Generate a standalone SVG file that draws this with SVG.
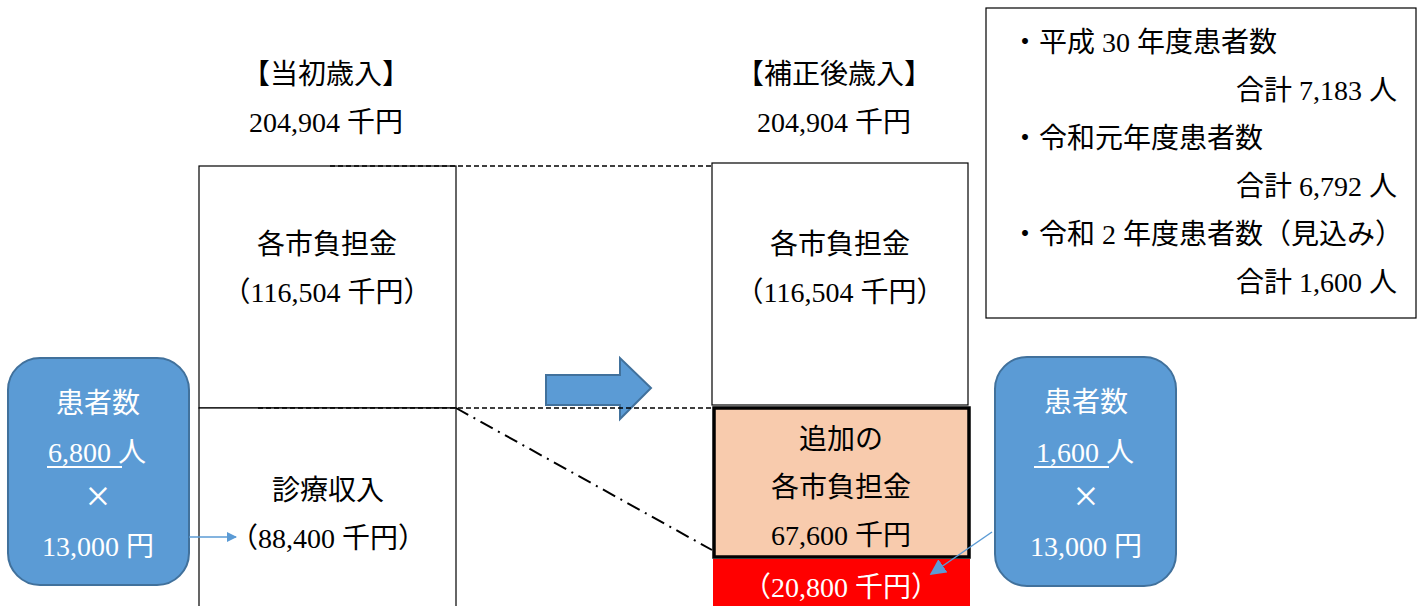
<svg xmlns="http://www.w3.org/2000/svg" width="1424" height="606" viewBox="0 0 1424 606">
<style>
text{font-family:'Liberation Serif','Noto Sans CJK JP',serif;font-size:28px;fill:#000}
.c{text-anchor:middle}
.w{fill:#fff}
.r{text-anchor:end}
.x{font-size:44px}
.box{fill:#fff;stroke:#000;stroke-width:1.2}
.pill{fill:#5b9bd5;stroke:#41719c;stroke-width:2}
.dash{stroke:#000;stroke-width:1.5;stroke-dasharray:5,3}
</style>
<defs>
<marker id="ah" viewBox="0 0 10 10" refX="9" refY="5" markerWidth="10" markerHeight="10" markerUnits="userSpaceOnUse" orient="auto">
<path d="M0,0 L10,5 L0,10 z" fill="#5b9bd5"/>
</marker>
<marker id="ah2" viewBox="0 0 10 10" refX="9" refY="5" markerWidth="16" markerHeight="16" markerUnits="userSpaceOnUse" orient="auto">
<path d="M0,0 L10,5 L0,10 z" fill="#5b9bd5"/>
</marker>
</defs>
<rect width="1424" height="606" fill="#fff"/>

<g id="header-initial">
<text class="c" x="326" y="84">【当初歳入】</text>
<text class="c" x="326" y="132">204,904 千円</text>
</g>
<g id="header-revised">
<text class="c" x="834" y="84">【補正後歳入】</text>
<text class="c" x="834" y="132">204,904 千円</text>
</g>

<g id="left-top">
<rect class="box" x="199" y="166" width="257" height="242"/>
<text class="c" x="327" y="254">各市負担金</text>
<text class="c" x="327" y="302">（116,504 千円）</text>
</g>
<g id="left-bottom">
<rect class="box" x="199" y="408" width="257" height="210"/>
<text class="c" x="328" y="500">診療収入</text>
<text class="c" x="328" y="548">（88,400 千円）</text>
</g>

<g id="right-top">
<rect class="box" x="712" y="163" width="256" height="242"/>
<text class="c" x="840" y="254">各市負担金</text>
<text class="c" x="840" y="302">（116,504 千円）</text>
</g>
<g id="right-add">
<rect x="714" y="408" width="255" height="149" fill="#f8cbad" stroke="#000" stroke-width="3.5"/>
<text class="c" x="841" y="449">追加の</text>
<text class="c" x="841" y="497">各市負担金</text>
<text class="c" x="841" y="545">67,600 千円</text>
</g>
<g id="right-red">
<rect x="713" y="559" width="257" height="60" fill="#ff0000"/>
<text class="c w" x="841" y="597">（20,800 千円）</text>
</g>

<g id="patients-left">
<rect class="pill" x="8" y="358" width="181" height="227" rx="32"/>
<text class="c w" x="98" y="413">患者数</text>
<text class="c w" x="97" y="462">6,800 人</text>
<line x1="47" y1="467" x2="122" y2="467" stroke="#fff" stroke-width="2"/>
<text class="c w x" x="98" y="511">×</text>
<text class="c w" x="98" y="556">13,000 円</text>
</g>
<g id="patients-right">
<rect class="pill" x="995" y="357" width="181" height="229" rx="32"/>
<text class="c w" x="1086" y="412">患者数</text>
<text class="c w" x="1085" y="462">1,600 人</text>
<line x1="1034" y1="467" x2="1109" y2="467" stroke="#fff" stroke-width="2"/>
<text class="c w x" x="1086" y="511">×</text>
<text class="c w" x="1086" y="556">13,000 円</text>
</g>

<g id="info">
<rect x="986" y="8" width="430" height="310" fill="#fff" stroke="#000" stroke-width="1.2"/>
<text x="1011" y="52">・平成 30 年度患者数</text>
<text class="r" x="1397" y="100">合計 7,183 人</text>
<text x="1011" y="148">・令和元年度患者数</text>
<text class="r" x="1397" y="196">合計 6,792 人</text>
<text x="1011" y="244">・令和 2 年度患者数（見込み）</text>
<text class="r" x="1397" y="292">合計 1,600 人</text>
</g>

<g id="block-arrow">
<path d="M546,375 L620,375 L620,358 L651,388 L620,419 L620,405 L546,405 z" fill="#5b9bd5" stroke="#41719c" stroke-width="2"/>
</g>

<g id="connectors" fill="none">
<line class="dash" x1="330" y1="166" x2="712" y2="166"/>
<line class="dash" x1="258" y1="408" x2="712" y2="408"/>
<line x1="456" y1="408" x2="712" y2="550" stroke="#000" stroke-width="2" stroke-dasharray="14,6,2,6"/>
<line x1="189" y1="537" x2="236" y2="537" stroke="#5b9bd5" stroke-width="1.5" marker-end="url(#ah)"/>
<line x1="992" y1="532" x2="931" y2="574" stroke="#5b9bd5" stroke-width="1.5" marker-end="url(#ah2)"/>
</g>
</svg>
